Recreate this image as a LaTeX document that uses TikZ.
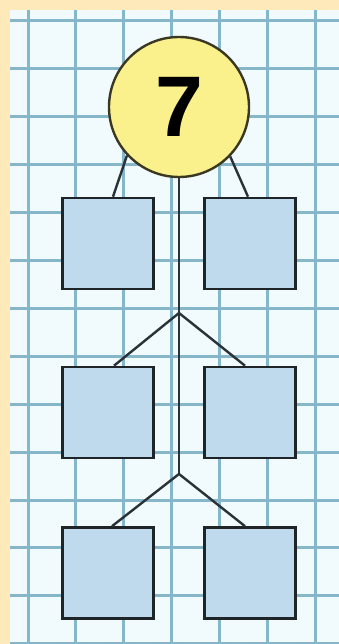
\documentclass[tikz,border=0pt]{standalone}
\usepackage{fontspec}
\usepackage{tikz}
\usepackage{xcolor}
\newfontfamily\digitfont{Liberation Sans}

\tikzset{
  paper/.style={fill={rgb,255:red,241;green,250;blue,252}},
  gridline/.style={draw={rgb,255:red,134;green,182;blue,202},line width=3},
  numcircle/.style={circle,draw={rgb,255:red,58;green,56;blue,34},line width=2.4,
    fill={rgb,255:red,250;green,240;blue,140},minimum size=140,inner sep=0},
  numbox/.style={rectangle,draw={rgb,255:red,30;green,36;blue,40},line width=2.6,
    fill={rgb,255:red,190;green,218;blue,236},minimum width=91,minimum height=91,inner sep=0},
  branch/.style={draw={rgb,255:red,40;green,50;blue,55},line width=2.4}
}

\begin{document}
\begin{tikzpicture}[x=1pt,y=1pt,yscale=-1,xscale=1]
                \useasboundingbox (0,0) rectangle (339,644);
                %Shape: Rectangle [id:frame]
                \fill [fill={rgb,255:red,253;green,233;blue,186}] (0,0) rectangle (339,644);
                \fill [paper] (10,10) rectangle (339,644);
                %Grid
                \begin{scope}
                \clip (10,10) rectangle (339,644);
                \foreach \i in {0,...,6} \draw [gridline] (28+47.9*\i,10) -- (28+47.9*\i,644);
                \foreach \j in {0,...,13} \draw [gridline] (10,21+47.9*\j) -- (339,21+47.9*\j);
                \end{scope}
                %Shape: Circle [id:seven]
                \node [numcircle] (seven) at (179,107) {\raisebox{-4pt}{\digitfont\bfseries\fontsize{86}{86}\selectfont 7}};
                %Shape: Square [id:a1..b3]
                \node [numbox] (a1) at (108,243.5) {};
                \node [numbox] (b1) at (250,243.5) {};
                \node [numbox] (a2) at (108,412.5) {};
                \node [numbox] (b2) at (250,412.5) {};
                \node [numbox] (a3) at (108,573) {};
                \node [numbox] (b3) at (250,573) {};
                \coordinate (fork1) at (179,313);
                \coordinate (fork2) at (179,474);
                %Straight Lines
                \draw [branch] (seven.south) -- (fork2);
                \draw [branch] (seven.223) -- ([xshift=5pt]a1.north);
                \draw [branch] (seven.316) -- ([xshift=-2pt]b1.north);
                \draw [branch] ([xshift=6pt]a2.north) -- (fork1) -- ([xshift=-5pt]b2.north);
                \draw [branch] ([xshift=4pt]a3.north) -- (fork2) -- ([xshift=-5pt]b3.north);
\end{tikzpicture}
\end{document}
